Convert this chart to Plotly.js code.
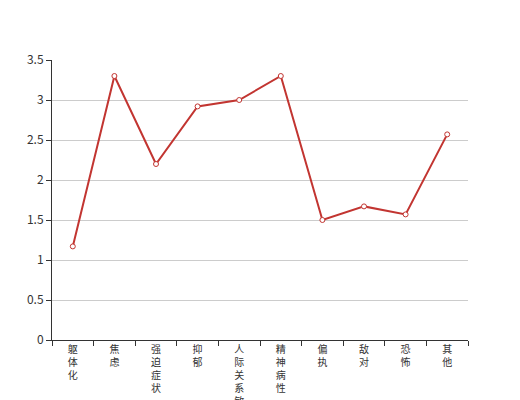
<!DOCTYPE html>
<html><head><meta charset="utf-8">
<script src="https://cdn.plot.ly/plotly-3.0.1.min.js"></script>
<style>html,body{margin:0;padding:0;background:#fff}#chart{width:520px;height:400px}</style>
</head><body><div id="chart"></div>
<script>
var categories = ["躯体化","焦虑","强迫症状","抑郁","人际关系敏感","精神病性","偏执","敌对","恐怖","其他"];
var values = [1.17, 3.30, 2.20, 2.92, 3.00, 3.30, 1.50, 1.67, 1.57, 2.57];
var yTicks = [0, 0.5, 1, 1.5, 2, 2.5, 3, 3.5];

var tickText = categories.map(function(c){ return c.split("").join("<br>"); });

var trace = {
  x: categories, y: values, type: "scatter", mode: "lines+markers",
  line: {color: "#c23531", width: 2},
  marker: {size: 5, color: "#fff", line: {color: "#c23531", width: 1}},
  cliponaxis: false, hoverinfo: "skip"
};
var layout = {
  width: 520, height: 400,
  margin: {l: 52, r: 52, t: 60, b: 60},
  paper_bgcolor: "#fff", plot_bgcolor: "#fff",
  showlegend: false,
  font: {family: "'Noto Sans CJK SC', sans-serif", size: 12, color: "#333"},
  xaxis: {
    type: "category", range: [-0.5, 9.5], tickson: "boundaries",
    tickmode: "array", tickvals: categories, ticktext: tickText,
    ticks: "outside", ticklen: 5, tickcolor: "#333", tickwidth: 1,
    showline: true, linecolor: "#333", linewidth: 1,
    showgrid: false, zeroline: false, fixedrange: true,
    tickfont: {size: 10, color: "#333"}, tickangle: 0
  },
  yaxis: {
    range: [0, 3.5], tickmode: "array", tickvals: yTicks,
    ticktext: yTicks.map(String),
    ticks: "outside", ticklen: 5, tickcolor: "#333",
    showline: true, linecolor: "#333", linewidth: 1,
    showgrid: true, gridcolor: "#ccc", gridwidth: 1, zeroline: false,
    tickfont: {size: 12, color: "#333"}, fixedrange: true
  }
};
Plotly.newPlot("chart", [trace], layout, {displayModeBar: false, staticPlot: true});
</script></body></html>
